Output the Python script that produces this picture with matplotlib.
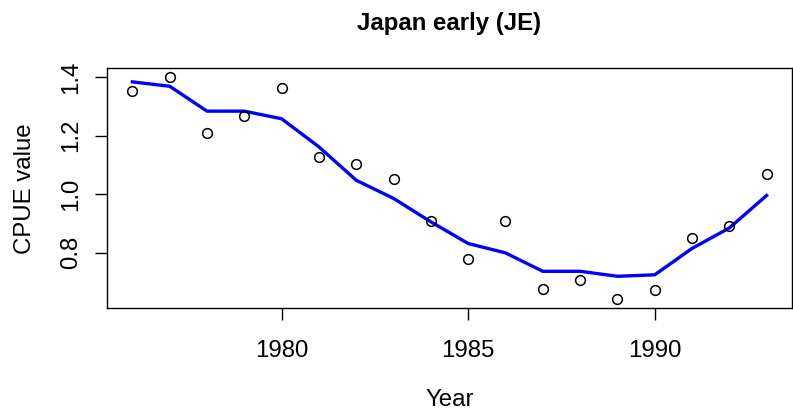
import matplotlib
matplotlib.use("Agg")
import matplotlib.pyplot as plt

years = list(range(1976, 1994))
observed = [1.352, 1.400, 1.210, 1.267, 1.362, 1.127, 1.104, 1.053, 0.908,
            0.778, 0.909, 0.678, 0.709, 0.641, 0.672, 0.851, 0.893, 1.068]
fitted = [1.384, 1.369, 1.284, 1.284, 1.258, 1.162, 1.048, 0.986, 0.906,
          0.832, 0.800, 0.737, 0.737, 0.720, 0.725, 0.815, 0.885, 0.996]
xticks = [1980, 1985, 1990]
yticks = [0.8, 1.0, 1.2, 1.4]
title = "Japan early (JE)"

plt.rcParams['font.family'] = ['Liberation Sans', 'DejaVu Sans']

W, H = 793, 412
fig = plt.figure(figsize=(W / 100, H / 100), dpi=100)
left, right, top, bottom = 107, 792, 68.3, 308.3
ax = fig.add_axes([left / W, 1 - bottom / H, (right - left) / W, (bottom - top) / H])

ax.plot(years, fitted, color='#0000ff', lw=2.4, zorder=2)
ax.plot(years, observed, 'o', mfc='none', mec='black', ms=7, mew=1.1, zorder=3)

xr = max(years) - min(years)
ax.set_xlim(min(years) - 0.04 * xr, max(years) + 0.04 * xr)
lo = min(min(observed), min(fitted))
hi = max(max(observed), max(fitted))
yr = hi - lo
ax.set_ylim(lo - 0.04 * yr, hi + 0.04 * yr)

ax.set_xticks(xticks)
ax.set_xticklabels([str(t) for t in xticks])
ax.set_yticks(yticks)
ax.set_yticklabels([f"{t:.1f}" for t in yticks], rotation=90, va='center')

fs = 17.3
for s in ax.spines.values():
    s.set_linewidth(1.0)
    s.set_color('black')
ax.tick_params(direction='out', length=8.5, width=1.0, labelsize=fs)
ax.tick_params(axis='x', pad=14)
ax.tick_params(axis='y', pad=9.5)

ax.set_xlabel("Year", fontsize=fs, labelpad=20)
ax.set_ylabel("CPUE value", fontsize=fs, labelpad=17)
ax.set_title(title, fontsize=fs, fontweight='bold', pad=27.6)

fig.savefig("out.png", dpi=100)
